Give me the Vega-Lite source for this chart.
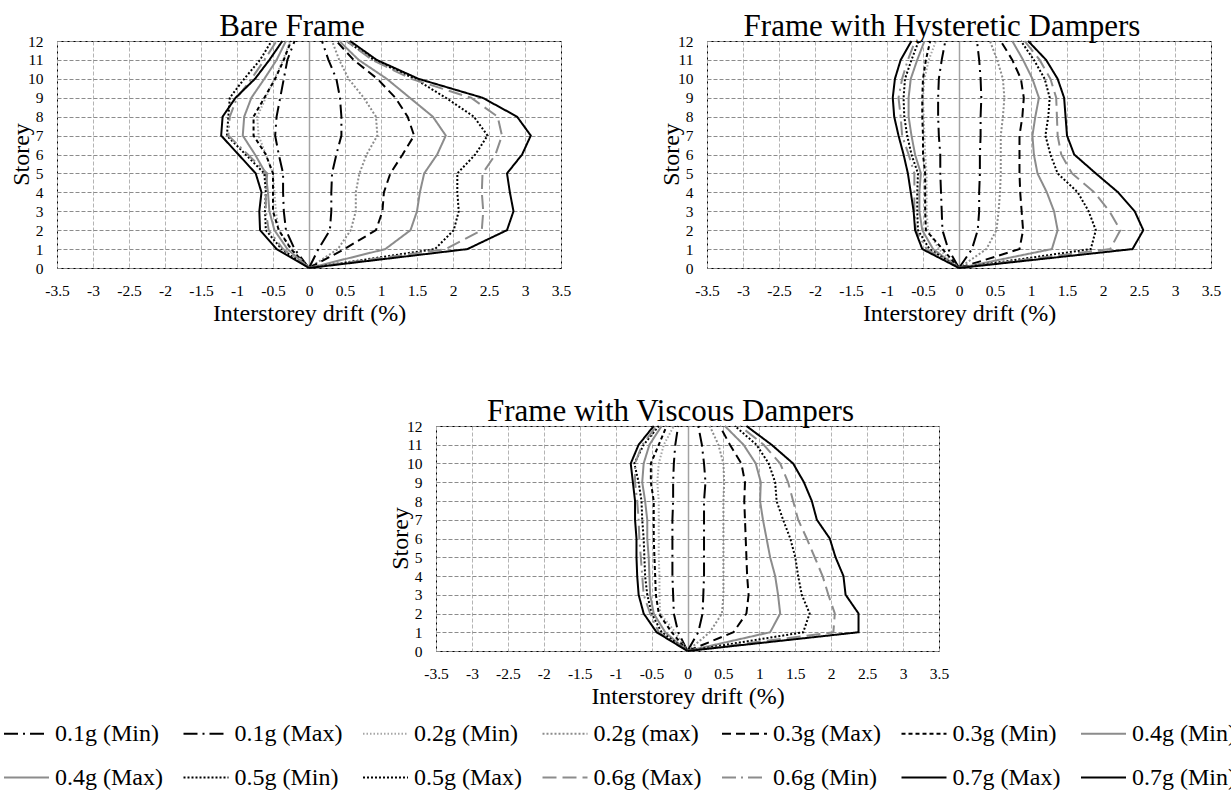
{
  "$schema": "https://vega.github.io/schema/vega-lite/v6.json",
  "autosize": {"type": "none"},
  "padding": {"left": 57, "top": 41, "right": 1174, "bottom": 752},
  "background": "#ffffff",
  "datasets": {
    "bare": [
      {"series":"0.1g (Min)","storey":0,"drift":0},{"series":"0.1g (Min)","storey":1,"drift":-0.2},{"series":"0.1g (Min)","storey":2,"drift":-0.32},{"series":"0.1g (Min)","storey":3,"drift":-0.35},{"series":"0.1g (Min)","storey":4,"drift":-0.36},{"series":"0.1g (Min)","storey":5,"drift":-0.36},{"series":"0.1g (Min)","storey":6,"drift":-0.42},{"series":"0.1g (Min)","storey":7,"drift":-0.47},{"series":"0.1g (Min)","storey":8,"drift":-0.45},{"series":"0.1g (Min)","storey":9,"drift":-0.4},{"series":"0.1g (Min)","storey":10,"drift":-0.35},{"series":"0.1g (Min)","storey":11,"drift":-0.3},{"series":"0.1g (Min)","storey":12,"drift":-0.2},
      {"series":"0.1g (Max)","storey":0,"drift":0},{"series":"0.1g (Max)","storey":1,"drift":0.13},{"series":"0.1g (Max)","storey":2,"drift":0.29},{"series":"0.1g (Max)","storey":3,"drift":0.31},{"series":"0.1g (Max)","storey":4,"drift":0.31},{"series":"0.1g (Max)","storey":5,"drift":0.32},{"series":"0.1g (Max)","storey":6,"drift":0.38},{"series":"0.1g (Max)","storey":7,"drift":0.45},{"series":"0.1g (Max)","storey":8,"drift":0.45},{"series":"0.1g (Max)","storey":9,"drift":0.43},{"series":"0.1g (Max)","storey":10,"drift":0.38},{"series":"0.1g (Max)","storey":11,"drift":0.27},{"series":"0.1g (Max)","storey":12,"drift":0.18},
      {"series":"0.2g (Min)","storey":0,"drift":0},{"series":"0.2g (Min)","storey":1,"drift":-0.24},{"series":"0.2g (Min)","storey":2,"drift":-0.42},{"series":"0.2g (Min)","storey":3,"drift":-0.46},{"series":"0.2g (Min)","storey":4,"drift":-0.48},{"series":"0.2g (Min)","storey":5,"drift":-0.5},{"series":"0.2g (Min)","storey":6,"drift":-0.6},{"series":"0.2g (Min)","storey":7,"drift":-0.7},{"series":"0.2g (Min)","storey":8,"drift":-0.72},{"series":"0.2g (Min)","storey":9,"drift":-0.6},{"series":"0.2g (Min)","storey":10,"drift":-0.48},{"series":"0.2g (Min)","storey":11,"drift":-0.36},{"series":"0.2g (Min)","storey":12,"drift":-0.26},
      {"series":"0.2g (max)","storey":0,"drift":0},{"series":"0.2g (max)","storey":1,"drift":0.4},{"series":"0.2g (max)","storey":2,"drift":0.58},{"series":"0.2g (max)","storey":3,"drift":0.65},{"series":"0.2g (max)","storey":4,"drift":0.65},{"series":"0.2g (max)","storey":5,"drift":0.7},{"series":"0.2g (max)","storey":6,"drift":0.8},{"series":"0.2g (max)","storey":7,"drift":0.95},{"series":"0.2g (max)","storey":8,"drift":0.93},{"series":"0.2g (max)","storey":9,"drift":0.76},{"series":"0.2g (max)","storey":10,"drift":0.55},{"series":"0.2g (max)","storey":11,"drift":0.42},{"series":"0.2g (max)","storey":12,"drift":0.32},
      {"series":"0.3g (Max)","storey":0,"drift":0},{"series":"0.3g (Max)","storey":1,"drift":0.49},{"series":"0.3g (Max)","storey":2,"drift":0.93},{"series":"0.3g (Max)","storey":3,"drift":1.02},{"series":"0.3g (Max)","storey":4,"drift":1.04},{"series":"0.3g (Max)","storey":5,"drift":1.13},{"series":"0.3g (Max)","storey":6,"drift":1.3},{"series":"0.3g (Max)","storey":7,"drift":1.46},{"series":"0.3g (Max)","storey":8,"drift":1.37},{"series":"0.3g (Max)","storey":9,"drift":1.2},{"series":"0.3g (Max)","storey":10,"drift":0.95},{"series":"0.3g (Max)","storey":11,"drift":0.62},{"series":"0.3g (Max)","storey":12,"drift":0.38},
      {"series":"0.3g (Min)","storey":0,"drift":0},{"series":"0.3g (Min)","storey":1,"drift":-0.25},{"series":"0.3g (Min)","storey":2,"drift":-0.42},{"series":"0.3g (Min)","storey":3,"drift":-0.5},{"series":"0.3g (Min)","storey":4,"drift":-0.5},{"series":"0.3g (Min)","storey":5,"drift":-0.5},{"series":"0.3g (Min)","storey":6,"drift":-0.6},{"series":"0.3g (Min)","storey":7,"drift":-0.77},{"series":"0.3g (Min)","storey":8,"drift":-0.77},{"series":"0.3g (Min)","storey":9,"drift":-0.62},{"series":"0.3g (Min)","storey":10,"drift":-0.47},{"series":"0.3g (Min)","storey":11,"drift":-0.35},{"series":"0.3g (Min)","storey":12,"drift":-0.25},
      {"series":"0.4g (Min)","storey":0,"drift":0},{"series":"0.4g (Min)","storey":1,"drift":-0.3},{"series":"0.4g (Min)","storey":2,"drift":-0.48},{"series":"0.4g (Min)","storey":3,"drift":-0.55},{"series":"0.4g (Min)","storey":4,"drift":-0.57},{"series":"0.4g (Min)","storey":5,"drift":-0.6},{"series":"0.4g (Min)","storey":6,"drift":-0.75},{"series":"0.4g (Min)","storey":7,"drift":-0.92},{"series":"0.4g (Min)","storey":8,"drift":-0.9},{"series":"0.4g (Min)","storey":9,"drift":-0.8},{"series":"0.4g (Min)","storey":10,"drift":-0.62},{"series":"0.4g (Min)","storey":11,"drift":-0.45},{"series":"0.4g (Min)","storey":12,"drift":-0.32},
      {"series":"0.4g (Max)","storey":0,"drift":0},{"series":"0.4g (Max)","storey":1,"drift":1.06},{"series":"0.4g (Max)","storey":2,"drift":1.41},{"series":"0.4g (Max)","storey":3,"drift":1.5},{"series":"0.4g (Max)","storey":4,"drift":1.54},{"series":"0.4g (Max)","storey":5,"drift":1.6},{"series":"0.4g (Max)","storey":6,"drift":1.78},{"series":"0.4g (Max)","storey":7,"drift":1.9},{"series":"0.4g (Max)","storey":8,"drift":1.72},{"series":"0.4g (Max)","storey":9,"drift":1.4},{"series":"0.4g (Max)","storey":10,"drift":1.08},{"series":"0.4g (Max)","storey":11,"drift":0.69},{"series":"0.4g (Max)","storey":12,"drift":0.42},
      {"series":"0.5g (Min)","storey":0,"drift":0},{"series":"0.5g (Min)","storey":1,"drift":-0.38},{"series":"0.5g (Min)","storey":2,"drift":-0.6},{"series":"0.5g (Min)","storey":3,"drift":-0.61},{"series":"0.5g (Min)","storey":4,"drift":-0.6},{"series":"0.5g (Min)","storey":5,"drift":-0.62},{"series":"0.5g (Min)","storey":6,"drift":-0.88},{"series":"0.5g (Min)","storey":7,"drift":-1.14},{"series":"0.5g (Min)","storey":8,"drift":-1.12},{"series":"0.5g (Min)","storey":9,"drift":-1.1},{"series":"0.5g (Min)","storey":10,"drift":-0.9},{"series":"0.5g (Min)","storey":11,"drift":-0.68},{"series":"0.5g (Min)","storey":12,"drift":-0.52},
      {"series":"0.5g (Max)","storey":0,"drift":0},{"series":"0.5g (Max)","storey":1,"drift":1.75},{"series":"0.5g (Max)","storey":2,"drift":2.01},{"series":"0.5g (Max)","storey":3,"drift":2.08},{"series":"0.5g (Max)","storey":4,"drift":2.06},{"series":"0.5g (Max)","storey":5,"drift":2.06},{"series":"0.5g (Max)","storey":6,"drift":2.31},{"series":"0.5g (Max)","storey":7,"drift":2.48},{"series":"0.5g (Max)","storey":8,"drift":2.29},{"series":"0.5g (Max)","storey":9,"drift":1.9},{"series":"0.5g (Max)","storey":10,"drift":1.47},{"series":"0.5g (Max)","storey":11,"drift":0.9},{"series":"0.5g (Max)","storey":12,"drift":0.52},
      {"series":"0.6g (Max)","storey":0,"drift":0},{"series":"0.6g (Max)","storey":1,"drift":1.9},{"series":"0.6g (Max)","storey":2,"drift":2.4},{"series":"0.6g (Max)","storey":3,"drift":2.42},{"series":"0.6g (Max)","storey":4,"drift":2.4},{"series":"0.6g (Max)","storey":5,"drift":2.41},{"series":"0.6g (Max)","storey":6,"drift":2.59},{"series":"0.6g (Max)","storey":7,"drift":2.68},{"series":"0.6g (Max)","storey":8,"drift":2.62},{"series":"0.6g (Max)","storey":9,"drift":2.25},{"series":"0.6g (Max)","storey":10,"drift":1.42},{"series":"0.6g (Max)","storey":11,"drift":0.88},{"series":"0.6g (Max)","storey":12,"drift":0.52},
      {"series":"0.6g (Min)","storey":0,"drift":0},{"series":"0.6g (Min)","storey":1,"drift":-0.36},{"series":"0.6g (Min)","storey":2,"drift":-0.56},{"series":"0.6g (Min)","storey":3,"drift":-0.6},{"series":"0.6g (Min)","storey":4,"drift":-0.6},{"series":"0.6g (Min)","storey":5,"drift":-0.58},{"series":"0.6g (Min)","storey":6,"drift":-0.85},{"series":"0.6g (Min)","storey":7,"drift":-1.12},{"series":"0.6g (Min)","storey":8,"drift":-1.1},{"series":"0.6g (Min)","storey":9,"drift":-1.0},{"series":"0.6g (Min)","storey":10,"drift":-0.8},{"series":"0.6g (Min)","storey":11,"drift":-0.62},{"series":"0.6g (Min)","storey":12,"drift":-0.45},
      {"series":"0.7g (Max)","storey":0,"drift":0},{"series":"0.7g (Max)","storey":1,"drift":2.2},{"series":"0.7g (Max)","storey":2,"drift":2.75},{"series":"0.7g (Max)","storey":3,"drift":2.84},{"series":"0.7g (Max)","storey":4,"drift":2.79},{"series":"0.7g (Max)","storey":5,"drift":2.75},{"series":"0.7g (Max)","storey":6,"drift":2.96},{"series":"0.7g (Max)","storey":7,"drift":3.08},{"series":"0.7g (Max)","storey":8,"drift":2.89},{"series":"0.7g (Max)","storey":9,"drift":2.41},{"series":"0.7g (Max)","storey":10,"drift":1.52},{"series":"0.7g (Max)","storey":11,"drift":0.94},{"series":"0.7g (Max)","storey":12,"drift":0.57},
      {"series":"0.7g (Min)","storey":0,"drift":0},{"series":"0.7g (Min)","storey":1,"drift":-0.45},{"series":"0.7g (Min)","storey":2,"drift":-0.68},{"series":"0.7g (Min)","storey":3,"drift":-0.69},{"series":"0.7g (Min)","storey":4,"drift":-0.66},{"series":"0.7g (Min)","storey":5,"drift":-0.74},{"series":"0.7g (Min)","storey":6,"drift":-0.98},{"series":"0.7g (Min)","storey":7,"drift":-1.22},{"series":"0.7g (Min)","storey":8,"drift":-1.2},{"series":"0.7g (Min)","storey":9,"drift":-1.02},{"series":"0.7g (Min)","storey":10,"drift":-0.75},{"series":"0.7g (Min)","storey":11,"drift":-0.55},{"series":"0.7g (Min)","storey":12,"drift":-0.37}
    ],
    "hysteretic": [
      {"series":"0.1g (Min)","storey":0,"drift":0},{"series":"0.1g (Min)","storey":1,"drift":-0.15},{"series":"0.1g (Min)","storey":2,"drift":-0.23},{"series":"0.1g (Min)","storey":3,"drift":-0.24},{"series":"0.1g (Min)","storey":4,"drift":-0.25},{"series":"0.1g (Min)","storey":5,"drift":-0.26},{"series":"0.1g (Min)","storey":6,"drift":-0.26},{"series":"0.1g (Min)","storey":7,"drift":-0.28},{"series":"0.1g (Min)","storey":8,"drift":-0.29},{"series":"0.1g (Min)","storey":9,"drift":-0.29},{"series":"0.1g (Min)","storey":10,"drift":-0.28},{"series":"0.1g (Min)","storey":11,"drift":-0.24},{"series":"0.1g (Min)","storey":12,"drift":-0.19},
      {"series":"0.1g (Max)","storey":0,"drift":0},{"series":"0.1g (Max)","storey":1,"drift":0.18},{"series":"0.1g (Max)","storey":2,"drift":0.26},{"series":"0.1g (Max)","storey":3,"drift":0.28},{"series":"0.1g (Max)","storey":4,"drift":0.28},{"series":"0.1g (Max)","storey":5,"drift":0.29},{"series":"0.1g (Max)","storey":6,"drift":0.29},{"series":"0.1g (Max)","storey":7,"drift":0.3},{"series":"0.1g (Max)","storey":8,"drift":0.3},{"series":"0.1g (Max)","storey":9,"drift":0.31},{"series":"0.1g (Max)","storey":10,"drift":0.3},{"series":"0.1g (Max)","storey":11,"drift":0.28},{"series":"0.1g (Max)","storey":12,"drift":0.25},
      {"series":"0.2g (Min)","storey":0,"drift":0},{"series":"0.2g (Min)","storey":1,"drift":-0.28},{"series":"0.2g (Min)","storey":2,"drift":-0.43},{"series":"0.2g (Min)","storey":3,"drift":-0.45},{"series":"0.2g (Min)","storey":4,"drift":-0.45},{"series":"0.2g (Min)","storey":5,"drift":-0.45},{"series":"0.2g (Min)","storey":6,"drift":-0.47},{"series":"0.2g (Min)","storey":7,"drift":-0.48},{"series":"0.2g (Min)","storey":8,"drift":-0.49},{"series":"0.2g (Min)","storey":9,"drift":-0.5},{"series":"0.2g (Min)","storey":10,"drift":-0.48},{"series":"0.2g (Min)","storey":11,"drift":-0.42},{"series":"0.2g (Min)","storey":12,"drift":-0.32},
      {"series":"0.2g (max)","storey":0,"drift":0},{"series":"0.2g (max)","storey":1,"drift":0.38},{"series":"0.2g (max)","storey":2,"drift":0.52},{"series":"0.2g (max)","storey":3,"drift":0.55},{"series":"0.2g (max)","storey":4,"drift":0.57},{"series":"0.2g (max)","storey":5,"drift":0.58},{"series":"0.2g (max)","storey":6,"drift":0.58},{"series":"0.2g (max)","storey":7,"drift":0.58},{"series":"0.2g (max)","storey":8,"drift":0.61},{"series":"0.2g (max)","storey":9,"drift":0.63},{"series":"0.2g (max)","storey":10,"drift":0.61},{"series":"0.2g (max)","storey":11,"drift":0.53},{"series":"0.2g (max)","storey":12,"drift":0.43},
      {"series":"0.3g (Max)","storey":0,"drift":0},{"series":"0.3g (Max)","storey":1,"drift":0.84},{"series":"0.3g (Max)","storey":2,"drift":0.89},{"series":"0.3g (Max)","storey":3,"drift":0.87},{"series":"0.3g (Max)","storey":4,"drift":0.85},{"series":"0.3g (Max)","storey":5,"drift":0.84},{"series":"0.3g (Max)","storey":6,"drift":0.84},{"series":"0.3g (Max)","storey":7,"drift":0.84},{"series":"0.3g (Max)","storey":8,"drift":0.88},{"series":"0.3g (Max)","storey":9,"drift":0.9},{"series":"0.3g (Max)","storey":10,"drift":0.86},{"series":"0.3g (Max)","storey":11,"drift":0.74},{"series":"0.3g (Max)","storey":12,"drift":0.58},
      {"series":"0.3g (Min)","storey":0,"drift":0},{"series":"0.3g (Min)","storey":1,"drift":-0.23},{"series":"0.3g (Min)","storey":2,"drift":-0.46},{"series":"0.3g (Min)","storey":3,"drift":-0.47},{"series":"0.3g (Min)","storey":4,"drift":-0.47},{"series":"0.3g (Min)","storey":5,"drift":-0.47},{"series":"0.3g (Min)","storey":6,"drift":-0.5},{"series":"0.3g (Min)","storey":7,"drift":-0.5},{"series":"0.3g (Min)","storey":8,"drift":-0.51},{"series":"0.3g (Min)","storey":9,"drift":-0.51},{"series":"0.3g (Min)","storey":10,"drift":-0.5},{"series":"0.3g (Min)","storey":11,"drift":-0.46},{"series":"0.3g (Min)","storey":12,"drift":-0.4},
      {"series":"0.4g (Min)","storey":0,"drift":0},{"series":"0.4g (Min)","storey":1,"drift":-0.36},{"series":"0.4g (Min)","storey":2,"drift":-0.51},{"series":"0.4g (Min)","storey":3,"drift":-0.55},{"series":"0.4g (Min)","storey":4,"drift":-0.55},{"series":"0.4g (Min)","storey":5,"drift":-0.53},{"series":"0.4g (Min)","storey":6,"drift":-0.61},{"series":"0.4g (Min)","storey":7,"drift":-0.66},{"series":"0.4g (Min)","storey":8,"drift":-0.7},{"series":"0.4g (Min)","storey":9,"drift":-0.7},{"series":"0.4g (Min)","storey":10,"drift":-0.67},{"series":"0.4g (Min)","storey":11,"drift":-0.58},{"series":"0.4g (Min)","storey":12,"drift":-0.48},
      {"series":"0.4g (Max)","storey":0,"drift":0},{"series":"0.4g (Max)","storey":1,"drift":1.29},{"series":"0.4g (Max)","storey":2,"drift":1.37},{"series":"0.4g (Max)","storey":3,"drift":1.32},{"series":"0.4g (Max)","storey":4,"drift":1.22},{"series":"0.4g (Max)","storey":5,"drift":1.09},{"series":"0.4g (Max)","storey":6,"drift":1.04},{"series":"0.4g (Max)","storey":7,"drift":1.02},{"series":"0.4g (Max)","storey":8,"drift":1.06},{"series":"0.4g (Max)","storey":9,"drift":1.11},{"series":"0.4g (Max)","storey":10,"drift":1.02},{"series":"0.4g (Max)","storey":11,"drift":0.89},{"series":"0.4g (Max)","storey":12,"drift":0.74},
      {"series":"0.5g (Min)","storey":0,"drift":0},{"series":"0.5g (Min)","storey":1,"drift":-0.41},{"series":"0.5g (Min)","storey":2,"drift":-0.57},{"series":"0.5g (Min)","storey":3,"drift":-0.58},{"series":"0.5g (Min)","storey":4,"drift":-0.58},{"series":"0.5g (Min)","storey":5,"drift":-0.57},{"series":"0.5g (Min)","storey":6,"drift":-0.66},{"series":"0.5g (Min)","storey":7,"drift":-0.72},{"series":"0.5g (Min)","storey":8,"drift":-0.76},{"series":"0.5g (Min)","storey":9,"drift":-0.77},{"series":"0.5g (Min)","storey":10,"drift":-0.75},{"series":"0.5g (Min)","storey":11,"drift":-0.66},{"series":"0.5g (Min)","storey":12,"drift":-0.56},
      {"series":"0.5g (Max)","storey":0,"drift":0},{"series":"0.5g (Max)","storey":1,"drift":1.83},{"series":"0.5g (Max)","storey":2,"drift":1.9},{"series":"0.5g (Max)","storey":3,"drift":1.8},{"series":"0.5g (Max)","storey":4,"drift":1.65},{"series":"0.5g (Max)","storey":5,"drift":1.37},{"series":"0.5g (Max)","storey":6,"drift":1.27},{"series":"0.5g (Max)","storey":7,"drift":1.2},{"series":"0.5g (Max)","storey":8,"drift":1.24},{"series":"0.5g (Max)","storey":9,"drift":1.26},{"series":"0.5g (Max)","storey":10,"drift":1.19},{"series":"0.5g (Max)","storey":11,"drift":1.04},{"series":"0.5g (Max)","storey":12,"drift":0.86},
      {"series":"0.6g (Max)","storey":0,"drift":0},{"series":"0.6g (Max)","storey":1,"drift":2.1},{"series":"0.6g (Max)","storey":2,"drift":2.24},{"series":"0.6g (Max)","storey":3,"drift":2.09},{"series":"0.6g (Max)","storey":4,"drift":1.88},{"series":"0.6g (Max)","storey":5,"drift":1.57},{"series":"0.6g (Max)","storey":6,"drift":1.42},{"series":"0.6g (Max)","storey":7,"drift":1.37},{"series":"0.6g (Max)","storey":8,"drift":1.36},{"series":"0.6g (Max)","storey":9,"drift":1.35},{"series":"0.6g (Max)","storey":10,"drift":1.27},{"series":"0.6g (Max)","storey":11,"drift":1.12},{"series":"0.6g (Max)","storey":12,"drift":0.91},
      {"series":"0.6g (Min)","storey":0,"drift":0},{"series":"0.6g (Min)","storey":1,"drift":-0.45},{"series":"0.6g (Min)","storey":2,"drift":-0.6},{"series":"0.6g (Min)","storey":3,"drift":-0.62},{"series":"0.6g (Min)","storey":4,"drift":-0.62},{"series":"0.6g (Min)","storey":5,"drift":-0.62},{"series":"0.6g (Min)","storey":6,"drift":-0.7},{"series":"0.6g (Min)","storey":7,"drift":-0.79},{"series":"0.6g (Min)","storey":8,"drift":-0.81},{"series":"0.6g (Min)","storey":9,"drift":-0.84},{"series":"0.6g (Min)","storey":10,"drift":-0.79},{"series":"0.6g (Min)","storey":11,"drift":-0.71},{"series":"0.6g (Min)","storey":12,"drift":-0.61},
      {"series":"0.7g (Max)","storey":0,"drift":0},{"series":"0.7g (Max)","storey":1,"drift":2.41},{"series":"0.7g (Max)","storey":2,"drift":2.56},{"series":"0.7g (Max)","storey":3,"drift":2.44},{"series":"0.7g (Max)","storey":4,"drift":2.21},{"series":"0.7g (Max)","storey":5,"drift":1.9},{"series":"0.7g (Max)","storey":6,"drift":1.6},{"series":"0.7g (Max)","storey":7,"drift":1.5},{"series":"0.7g (Max)","storey":8,"drift":1.48},{"series":"0.7g (Max)","storey":9,"drift":1.46},{"series":"0.7g (Max)","storey":10,"drift":1.37},{"series":"0.7g (Max)","storey":11,"drift":1.21},{"series":"0.7g (Max)","storey":12,"drift":0.96},
      {"series":"0.7g (Min)","storey":0,"drift":0},{"series":"0.7g (Min)","storey":1,"drift":-0.51},{"series":"0.7g (Min)","storey":2,"drift":-0.61},{"series":"0.7g (Min)","storey":3,"drift":-0.63},{"series":"0.7g (Min)","storey":4,"drift":-0.67},{"series":"0.7g (Min)","storey":5,"drift":-0.71},{"series":"0.7g (Min)","storey":6,"drift":-0.77},{"series":"0.7g (Min)","storey":7,"drift":-0.84},{"series":"0.7g (Min)","storey":8,"drift":-0.9},{"series":"0.7g (Min)","storey":9,"drift":-0.92},{"series":"0.7g (Min)","storey":10,"drift":-0.89},{"series":"0.7g (Min)","storey":11,"drift":-0.81},{"series":"0.7g (Min)","storey":12,"drift":-0.66}
    ],
    "viscous": [
      {"series":"0.1g (Min)","storey":0,"drift":0},{"series":"0.1g (Min)","storey":1,"drift":-0.13},{"series":"0.1g (Min)","storey":2,"drift":-0.19},{"series":"0.1g (Min)","storey":3,"drift":-0.2},{"series":"0.1g (Min)","storey":4,"drift":-0.21},{"series":"0.1g (Min)","storey":5,"drift":-0.21},{"series":"0.1g (Min)","storey":6,"drift":-0.21},{"series":"0.1g (Min)","storey":7,"drift":-0.21},{"series":"0.1g (Min)","storey":8,"drift":-0.2},{"series":"0.1g (Min)","storey":9,"drift":-0.2},{"series":"0.1g (Min)","storey":10,"drift":-0.19},{"series":"0.1g (Min)","storey":11,"drift":-0.17},{"series":"0.1g (Min)","storey":12,"drift":-0.13},
      {"series":"0.1g (Max)","storey":0,"drift":0},{"series":"0.1g (Max)","storey":1,"drift":0.15},{"series":"0.1g (Max)","storey":2,"drift":0.21},{"series":"0.1g (Max)","storey":3,"drift":0.22},{"series":"0.1g (Max)","storey":4,"drift":0.23},{"series":"0.1g (Max)","storey":5,"drift":0.23},{"series":"0.1g (Max)","storey":6,"drift":0.23},{"series":"0.1g (Max)","storey":7,"drift":0.23},{"series":"0.1g (Max)","storey":8,"drift":0.23},{"series":"0.1g (Max)","storey":9,"drift":0.25},{"series":"0.1g (Max)","storey":10,"drift":0.23},{"series":"0.1g (Max)","storey":11,"drift":0.2},{"series":"0.1g (Max)","storey":12,"drift":0.15},
      {"series":"0.2g (Min)","storey":0,"drift":0},{"series":"0.2g (Min)","storey":1,"drift":-0.17},{"series":"0.2g (Min)","storey":2,"drift":-0.38},{"series":"0.2g (Min)","storey":3,"drift":-0.39},{"series":"0.2g (Min)","storey":4,"drift":-0.39},{"series":"0.2g (Min)","storey":5,"drift":-0.4},{"series":"0.2g (Min)","storey":6,"drift":-0.4},{"series":"0.2g (Min)","storey":7,"drift":-0.4},{"series":"0.2g (Min)","storey":8,"drift":-0.4},{"series":"0.2g (Min)","storey":9,"drift":-0.42},{"series":"0.2g (Min)","storey":10,"drift":-0.4},{"series":"0.2g (Min)","storey":11,"drift":-0.33},{"series":"0.2g (Min)","storey":12,"drift":-0.19},
      {"series":"0.2g (max)","storey":0,"drift":0},{"series":"0.2g (max)","storey":1,"drift":0.31},{"series":"0.2g (max)","storey":2,"drift":0.48},{"series":"0.2g (max)","storey":3,"drift":0.5},{"series":"0.2g (max)","storey":4,"drift":0.5},{"series":"0.2g (max)","storey":5,"drift":0.5},{"series":"0.2g (max)","storey":6,"drift":0.5},{"series":"0.2g (max)","storey":7,"drift":0.5},{"series":"0.2g (max)","storey":8,"drift":0.5},{"series":"0.2g (max)","storey":9,"drift":0.51},{"series":"0.2g (max)","storey":10,"drift":0.5},{"series":"0.2g (max)","storey":11,"drift":0.43},{"series":"0.2g (max)","storey":12,"drift":0.31},
      {"series":"0.3g (Max)","storey":0,"drift":0},{"series":"0.3g (Max)","storey":1,"drift":0.64},{"series":"0.3g (Max)","storey":2,"drift":0.82},{"series":"0.3g (Max)","storey":3,"drift":0.85},{"series":"0.3g (Max)","storey":4,"drift":0.83},{"series":"0.3g (Max)","storey":5,"drift":0.82},{"series":"0.3g (Max)","storey":6,"drift":0.81},{"series":"0.3g (Max)","storey":7,"drift":0.8},{"series":"0.3g (Max)","storey":8,"drift":0.79},{"series":"0.3g (Max)","storey":9,"drift":0.8},{"series":"0.3g (Max)","storey":10,"drift":0.75},{"series":"0.3g (Max)","storey":11,"drift":0.59},{"series":"0.3g (Max)","storey":12,"drift":0.45},
      {"series":"0.3g (Min)","storey":0,"drift":0},{"series":"0.3g (Min)","storey":1,"drift":-0.22},{"series":"0.3g (Min)","storey":2,"drift":-0.4},{"series":"0.3g (Min)","storey":3,"drift":-0.44},{"series":"0.3g (Min)","storey":4,"drift":-0.45},{"series":"0.3g (Min)","storey":5,"drift":-0.46},{"series":"0.3g (Min)","storey":6,"drift":-0.47},{"series":"0.3g (Min)","storey":7,"drift":-0.47},{"series":"0.3g (Min)","storey":8,"drift":-0.47},{"series":"0.3g (Min)","storey":9,"drift":-0.51},{"series":"0.3g (Min)","storey":10,"drift":-0.51},{"series":"0.3g (Min)","storey":11,"drift":-0.4},{"series":"0.3g (Min)","storey":12,"drift":-0.29},
      {"series":"0.4g (Min)","storey":0,"drift":0},{"series":"0.4g (Min)","storey":1,"drift":-0.31},{"series":"0.4g (Min)","storey":2,"drift":-0.47},{"series":"0.4g (Min)","storey":3,"drift":-0.52},{"series":"0.4g (Min)","storey":4,"drift":-0.53},{"series":"0.4g (Min)","storey":5,"drift":-0.54},{"series":"0.4g (Min)","storey":6,"drift":-0.56},{"series":"0.4g (Min)","storey":7,"drift":-0.56},{"series":"0.4g (Min)","storey":8,"drift":-0.59},{"series":"0.4g (Min)","storey":9,"drift":-0.63},{"series":"0.4g (Min)","storey":10,"drift":-0.61},{"series":"0.4g (Min)","storey":11,"drift":-0.53},{"series":"0.4g (Min)","storey":12,"drift":-0.36},
      {"series":"0.4g (Max)","storey":0,"drift":0},{"series":"0.4g (Max)","storey":1,"drift":1.15},{"series":"0.4g (Max)","storey":2,"drift":1.29},{"series":"0.4g (Max)","storey":3,"drift":1.26},{"series":"0.4g (Max)","storey":4,"drift":1.22},{"series":"0.4g (Max)","storey":5,"drift":1.15},{"series":"0.4g (Max)","storey":6,"drift":1.1},{"series":"0.4g (Max)","storey":7,"drift":1.05},{"series":"0.4g (Max)","storey":8,"drift":1.01},{"series":"0.4g (Max)","storey":9,"drift":1.02},{"series":"0.4g (Max)","storey":10,"drift":0.95},{"series":"0.4g (Max)","storey":11,"drift":0.78},{"series":"0.4g (Max)","storey":12,"drift":0.52},
      {"series":"0.5g (Min)","storey":0,"drift":0},{"series":"0.5g (Min)","storey":1,"drift":-0.36},{"series":"0.5g (Min)","storey":2,"drift":-0.5},{"series":"0.5g (Min)","storey":3,"drift":-0.56},{"series":"0.5g (Min)","storey":4,"drift":-0.59},{"series":"0.5g (Min)","storey":5,"drift":-0.6},{"series":"0.5g (Min)","storey":6,"drift":-0.61},{"series":"0.5g (Min)","storey":7,"drift":-0.63},{"series":"0.5g (Min)","storey":8,"drift":-0.64},{"series":"0.5g (Min)","storey":9,"drift":-0.68},{"series":"0.5g (Min)","storey":10,"drift":-0.74},{"series":"0.5g (Min)","storey":11,"drift":-0.61},{"series":"0.5g (Min)","storey":12,"drift":-0.4},
      {"series":"0.5g (Max)","storey":0,"drift":0},{"series":"0.5g (Max)","storey":1,"drift":1.61},{"series":"0.5g (Max)","storey":2,"drift":1.7},{"series":"0.5g (Max)","storey":3,"drift":1.59},{"series":"0.5g (Max)","storey":4,"drift":1.54},{"series":"0.5g (Max)","storey":5,"drift":1.5},{"series":"0.5g (Max)","storey":6,"drift":1.43},{"series":"0.5g (Max)","storey":7,"drift":1.33},{"series":"0.5g (Max)","storey":8,"drift":1.24},{"series":"0.5g (Max)","storey":9,"drift":1.22},{"series":"0.5g (Max)","storey":10,"drift":1.13},{"series":"0.5g (Max)","storey":11,"drift":0.96},{"series":"0.5g (Max)","storey":12,"drift":0.66},
      {"series":"0.6g (Max)","storey":0,"drift":0},{"series":"0.6g (Max)","storey":1,"drift":2.03},{"series":"0.6g (Max)","storey":2,"drift":2.05},{"series":"0.6g (Max)","storey":3,"drift":1.96},{"series":"0.6g (Max)","storey":4,"drift":1.88},{"series":"0.6g (Max)","storey":5,"drift":1.77},{"series":"0.6g (Max)","storey":6,"drift":1.66},{"series":"0.6g (Max)","storey":7,"drift":1.54},{"series":"0.6g (Max)","storey":8,"drift":1.47},{"series":"0.6g (Max)","storey":9,"drift":1.4},{"series":"0.6g (Max)","storey":10,"drift":1.29},{"series":"0.6g (Max)","storey":11,"drift":1.06},{"series":"0.6g (Max)","storey":12,"drift":0.73},
      {"series":"0.6g (Min)","storey":0,"drift":0},{"series":"0.6g (Min)","storey":1,"drift":-0.4},{"series":"0.6g (Min)","storey":2,"drift":-0.52},{"series":"0.6g (Min)","storey":3,"drift":-0.61},{"series":"0.6g (Min)","storey":4,"drift":-0.63},{"series":"0.6g (Min)","storey":5,"drift":-0.65},{"series":"0.6g (Min)","storey":6,"drift":-0.67},{"series":"0.6g (Min)","storey":7,"drift":-0.68},{"series":"0.6g (Min)","storey":8,"drift":-0.7},{"series":"0.6g (Min)","storey":9,"drift":-0.73},{"series":"0.6g (Min)","storey":10,"drift":-0.73},{"series":"0.6g (Min)","storey":11,"drift":-0.63},{"series":"0.6g (Min)","storey":12,"drift":-0.43},
      {"series":"0.7g (Max)","storey":0,"drift":0},{"series":"0.7g (Max)","storey":1,"drift":2.38},{"series":"0.7g (Max)","storey":2,"drift":2.38},{"series":"0.7g (Max)","storey":3,"drift":2.2},{"series":"0.7g (Max)","storey":4,"drift":2.17},{"series":"0.7g (Max)","storey":5,"drift":2.06},{"series":"0.7g (Max)","storey":6,"drift":1.98},{"series":"0.7g (Max)","storey":7,"drift":1.8},{"series":"0.7g (Max)","storey":8,"drift":1.73},{"series":"0.7g (Max)","storey":9,"drift":1.62},{"series":"0.7g (Max)","storey":10,"drift":1.47},{"series":"0.7g (Max)","storey":11,"drift":1.17},{"series":"0.7g (Max)","storey":12,"drift":0.82},
      {"series":"0.7g (Min)","storey":0,"drift":0},{"series":"0.7g (Min)","storey":1,"drift":-0.43},{"series":"0.7g (Min)","storey":2,"drift":-0.61},{"series":"0.7g (Min)","storey":3,"drift":-0.68},{"series":"0.7g (Min)","storey":4,"drift":-0.7},{"series":"0.7g (Min)","storey":5,"drift":-0.71},{"series":"0.7g (Min)","storey":6,"drift":-0.71},{"series":"0.7g (Min)","storey":7,"drift":-0.73},{"series":"0.7g (Min)","storey":8,"drift":-0.73},{"series":"0.7g (Min)","storey":9,"drift":-0.76},{"series":"0.7g (Min)","storey":10,"drift":-0.79},{"series":"0.7g (Min)","storey":11,"drift":-0.68},{"series":"0.7g (Min)","storey":12,"drift":-0.47}
    ]
  },
  "bounds": "flush",
  "spacing": 385,
  "vconcat": [
    {
      "bounds": "flush",
      "spacing": 146,
      "hconcat": [
        {
          "width": 504, "height": 227,
          "title": {"text": "Bare Frame"},
          "data": {"name": "bare"},
          "mark": {"type": "line"},
          "encoding": {
            "x": {"field": "drift", "type": "quantitative", "scale": {"domain": [-3.5, 3.5], "nice": false, "zero": false}, "axis": {"title": "Interstorey drift (%)", "values": [-3.5,-3,-2.5,-2,-1.5,-1,-0.5,0,0.5,1,1.5,2,2.5,3,3.5], "labelExpr": "'' + datum.value", "labelOverlap": false, "labelSeparation": -20, "labelFlush": false, "labelFont": "Liberation Serif", "labelFontSize": 15.5, "labelColor": "#000000", "labelPadding": 27, "labelBaseline": "alphabetic", "ticks": false, "tickSize": 0, "domain": false, "grid": true, "gridColor": {"condition": {"test": "datum.value === 0", "value": "#a3a3a3"}, "value": "#b4b4b4"}, "gridDash": {"condition": {"test": "datum.value === 0", "value": [1, 0]}, "value": [4, 2]}, "gridWidth": {"condition": {"test": "datum.value === 0", "value": 1.5}, "value": 1}, "titleFont": "Liberation Serif", "titleFontSize": 24, "titleFontWeight": "normal", "titleColor": "#000000", "titleY": 52, "titleBaseline": "alphabetic"}},
            "y": {"field": "storey", "type": "quantitative", "scale": {"domain": [0, 12], "nice": false}, "axis": {"title": "Storey", "values": [0,1,2,3,4,5,6,7,8,9,10,11,12], "labelOverlap": false, "labelFont": "Liberation Serif", "labelFontSize": 15.5, "labelColor": "#000000", "labelPadding": 14, "ticks": false, "tickSize": 0, "domain": false, "grid": true, "gridColor": "#8c8c8c", "gridDash": [4, 2], "gridWidth": 1, "titleFont": "Liberation Serif", "titleFontSize": 24, "titleFontWeight": "normal", "titleColor": "#000000", "titleAngle": -90, "titleX": -29, "titleY": 113, "titleBaseline": "alphabetic", "titleAlign": "center"}},
            "order": {"field": "storey", "type": "quantitative"},
            "color": {"field": "series", "type": "nominal", "scale": {"domain": ["0.1g (Min)","0.1g (Max)","0.2g (Min)","0.2g (max)","0.3g (Max)","0.3g (Min)","0.4g (Min)","0.4g (Max)","0.5g (Min)","0.5g (Max)","0.6g (Max)","0.6g (Min)","0.7g (Max)","0.7g (Min)"], "range": ["#000000","#000000","#a6a6a6","#8c8c8c","#000000","#000000","#8c8c8c","#8c8c8c","#000000","#000000","#8c8c8c","#8c8c8c","#000000","#000000"]}, "legend": {"title": null, "orient": "none", "legendX": -54, "legendY": 669, "columns": 7, "direction": "horizontal", "symbolStrokeWidth": 3.5, "labelFont": "Liberation Serif", "labelFontSize": 24}},
            "strokeDash": {"field": "series", "type": "nominal", "scale": {"domain": ["0.1g (Min)","0.1g (Max)","0.2g (Min)","0.2g (max)","0.3g (Max)","0.3g (Min)","0.4g (Min)","0.4g (Max)","0.5g (Min)","0.5g (Max)","0.6g (Max)","0.6g (Min)","0.7g (Max)","0.7g (Min)"], "range": [[14,5,2,5],[14,5,2,5],[1.5,2],[2,2],[9,5],[4,3],[1,0],[1,0],[2,2],[2,2],[14,6],[14,5,2,5],[1,0],[1,0]]}, "legend": {"title": null, "orient": "none", "legendX": -54, "legendY": 669, "columns": 7, "direction": "horizontal", "symbolStrokeWidth": 3.5, "labelFont": "Liberation Serif", "labelFontSize": 24}},
            "strokeWidth": {"field": "series", "type": "ordinal", "scale": {"domain": ["0.1g (Min)","0.1g (Max)","0.2g (Min)","0.2g (max)","0.3g (Max)","0.3g (Min)","0.4g (Min)","0.4g (Max)","0.5g (Min)","0.5g (Max)","0.6g (Max)","0.6g (Min)","0.7g (Max)","0.7g (Min)"], "range": [2,2,1.2,1.3,2,1.6,2,2,1.6,1.6,2,2,2,2]}, "legend": null}
          }
        },
        {
          "width": 504, "height": 227,
          "title": {"text": "Frame with Hysteretic Dampers"},
          "data": {"name": "hysteretic"},
          "mark": {"type": "line"},
          "encoding": {
            "x": {"field": "drift", "type": "quantitative", "scale": {"domain": [-3.5, 3.5], "nice": false, "zero": false}, "axis": {"title": "Interstorey drift (%)", "values": [-3.5,-3,-2.5,-2,-1.5,-1,-0.5,0,0.5,1,1.5,2,2.5,3,3.5], "labelExpr": "'' + datum.value", "labelOverlap": false, "labelSeparation": -20, "labelFlush": false, "labelFont": "Liberation Serif", "labelFontSize": 15.5, "labelColor": "#000000", "labelPadding": 27, "labelBaseline": "alphabetic", "ticks": false, "tickSize": 0, "domain": false, "grid": true, "gridColor": {"condition": {"test": "datum.value === 0", "value": "#a3a3a3"}, "value": "#b4b4b4"}, "gridDash": {"condition": {"test": "datum.value === 0", "value": [1, 0]}, "value": [4, 2]}, "gridWidth": {"condition": {"test": "datum.value === 0", "value": 1.5}, "value": 1}, "titleFont": "Liberation Serif", "titleFontSize": 24, "titleFontWeight": "normal", "titleColor": "#000000", "titleY": 52, "titleBaseline": "alphabetic"}},
            "y": {"field": "storey", "type": "quantitative", "scale": {"domain": [0, 12], "nice": false}, "axis": {"title": "Storey", "values": [0,1,2,3,4,5,6,7,8,9,10,11,12], "labelOverlap": false, "labelFont": "Liberation Serif", "labelFontSize": 15.5, "labelColor": "#000000", "labelPadding": 14, "ticks": false, "tickSize": 0, "domain": false, "grid": true, "gridColor": "#8c8c8c", "gridDash": [4, 2], "gridWidth": 1, "titleFont": "Liberation Serif", "titleFontSize": 24, "titleFontWeight": "normal", "titleColor": "#000000", "titleAngle": -90, "titleX": -29, "titleY": 113, "titleBaseline": "alphabetic", "titleAlign": "center"}},
            "order": {"field": "storey", "type": "quantitative"},
            "color": {"field": "series", "type": "nominal", "scale": {"domain": ["0.1g (Min)","0.1g (Max)","0.2g (Min)","0.2g (max)","0.3g (Max)","0.3g (Min)","0.4g (Min)","0.4g (Max)","0.5g (Min)","0.5g (Max)","0.6g (Max)","0.6g (Min)","0.7g (Max)","0.7g (Min)"], "range": ["#000000","#000000","#a6a6a6","#8c8c8c","#000000","#000000","#8c8c8c","#8c8c8c","#000000","#000000","#8c8c8c","#8c8c8c","#000000","#000000"]}, "legend": {"title": null, "orient": "none", "legendX": -54, "legendY": 669, "columns": 7, "direction": "horizontal", "symbolStrokeWidth": 3.5, "labelFont": "Liberation Serif", "labelFontSize": 24}},
            "strokeDash": {"field": "series", "type": "nominal", "scale": {"domain": ["0.1g (Min)","0.1g (Max)","0.2g (Min)","0.2g (max)","0.3g (Max)","0.3g (Min)","0.4g (Min)","0.4g (Max)","0.5g (Min)","0.5g (Max)","0.6g (Max)","0.6g (Min)","0.7g (Max)","0.7g (Min)"], "range": [[14,5,2,5],[14,5,2,5],[1.5,2],[2,2],[9,5],[4,3],[1,0],[1,0],[2,2],[2,2],[14,6],[14,5,2,5],[1,0],[1,0]]}, "legend": {"title": null, "orient": "none", "legendX": -54, "legendY": 669, "columns": 7, "direction": "horizontal", "symbolStrokeWidth": 3.5, "labelFont": "Liberation Serif", "labelFontSize": 24}},
            "strokeWidth": {"field": "series", "type": "ordinal", "scale": {"domain": ["0.1g (Min)","0.1g (Max)","0.2g (Min)","0.2g (max)","0.3g (Max)","0.3g (Min)","0.4g (Min)","0.4g (Max)","0.5g (Min)","0.5g (Max)","0.6g (Max)","0.6g (Min)","0.7g (Max)","0.7g (Min)"], "range": [2,2,1.2,1.3,2,1.6,2,2,1.6,1.6,2,2,2,2]}, "legend": null}
          }
        }
      ]
    },
    {
      "bounds": "flush",
      "spacing": 378,
      "hconcat": [
        {"width": 1, "height": 1, "view": {"stroke": null}, "data": {"values": [{}]}, "mark": {"type": "point", "opacity": 0}, "encoding": {}},
        {
          "width": 503, "height": 225,
          "title": {"text": "Frame with Viscous Dampers"},
          "data": {"name": "viscous"},
          "mark": {"type": "line"},
          "encoding": {
            "x": {"field": "drift", "type": "quantitative", "scale": {"domain": [-3.5, 3.5], "nice": false, "zero": false}, "axis": {"title": "Interstorey drift (%)", "values": [-3.5,-3,-2.5,-2,-1.5,-1,-0.5,0,0.5,1,1.5,2,2.5,3,3.5], "labelExpr": "'' + datum.value", "labelOverlap": false, "labelSeparation": -20, "labelFlush": false, "labelFont": "Liberation Serif", "labelFontSize": 15.5, "labelColor": "#000000", "labelPadding": 27, "labelBaseline": "alphabetic", "ticks": false, "tickSize": 0, "domain": false, "grid": true, "gridColor": {"condition": {"test": "datum.value === 0", "value": "#a3a3a3"}, "value": "#b4b4b4"}, "gridDash": {"condition": {"test": "datum.value === 0", "value": [1, 0]}, "value": [4, 2]}, "gridWidth": {"condition": {"test": "datum.value === 0", "value": 1.5}, "value": 1}, "titleFont": "Liberation Serif", "titleFontSize": 24, "titleFontWeight": "normal", "titleColor": "#000000", "titleY": 52, "titleBaseline": "alphabetic"}},
            "y": {"field": "storey", "type": "quantitative", "scale": {"domain": [0, 12], "nice": false}, "axis": {"title": "Storey", "values": [0,1,2,3,4,5,6,7,8,9,10,11,12], "labelOverlap": false, "labelFont": "Liberation Serif", "labelFontSize": 15.5, "labelColor": "#000000", "labelPadding": 14, "ticks": false, "tickSize": 0, "domain": false, "grid": true, "gridColor": "#8c8c8c", "gridDash": [4, 2], "gridWidth": 1, "titleFont": "Liberation Serif", "titleFontSize": 24, "titleFontWeight": "normal", "titleColor": "#000000", "titleAngle": -90, "titleX": -29, "titleY": 112, "titleBaseline": "alphabetic", "titleAlign": "center"}},
            "order": {"field": "storey", "type": "quantitative"},
            "color": {"field": "series", "type": "nominal", "scale": {"domain": ["0.1g (Min)","0.1g (Max)","0.2g (Min)","0.2g (max)","0.3g (Max)","0.3g (Min)","0.4g (Min)","0.4g (Max)","0.5g (Min)","0.5g (Max)","0.6g (Max)","0.6g (Min)","0.7g (Max)","0.7g (Min)"], "range": ["#000000","#000000","#a6a6a6","#8c8c8c","#000000","#000000","#8c8c8c","#8c8c8c","#000000","#000000","#8c8c8c","#8c8c8c","#000000","#000000"]}, "legend": {"title": null, "orient": "none", "legendX": -54, "legendY": 669, "columns": 7, "direction": "horizontal", "symbolStrokeWidth": 3.5, "labelFont": "Liberation Serif", "labelFontSize": 24}},
            "strokeDash": {"field": "series", "type": "nominal", "scale": {"domain": ["0.1g (Min)","0.1g (Max)","0.2g (Min)","0.2g (max)","0.3g (Max)","0.3g (Min)","0.4g (Min)","0.4g (Max)","0.5g (Min)","0.5g (Max)","0.6g (Max)","0.6g (Min)","0.7g (Max)","0.7g (Min)"], "range": [[14,5,2,5],[14,5,2,5],[1.5,2],[2,2],[9,5],[4,3],[1,0],[1,0],[2,2],[2,2],[14,6],[14,5,2,5],[1,0],[1,0]]}, "legend": {"title": null, "orient": "none", "legendX": -54, "legendY": 669, "columns": 7, "direction": "horizontal", "symbolStrokeWidth": 3.5, "labelFont": "Liberation Serif", "labelFontSize": 24}},
            "strokeWidth": {"field": "series", "type": "ordinal", "scale": {"domain": ["0.1g (Min)","0.1g (Max)","0.2g (Min)","0.2g (max)","0.3g (Max)","0.3g (Min)","0.4g (Min)","0.4g (Max)","0.5g (Min)","0.5g (Max)","0.6g (Max)","0.6g (Min)","0.7g (Max)","0.7g (Min)"], "range": [2,2,1.2,1.3,2,1.6,2,2,1.6,1.6,2,2,2,2]}, "legend": null}
          }
        }
      ]
    }
  ],
  "config": {
    "font": "Liberation Serif",
    "view": {"stroke": "#000000", "strokeWidth": 1},
    "title": {"font": "Liberation Serif", "fontSize": 31, "fontWeight": "normal", "color": "#000000", "anchor": "middle", "frame": "group", "dx": -17, "offset": -9, "baseline": "alphabetic"},
    "legend": {"symbolType": "stroke", "symbolSize": 2025, "symbolStrokeWidth": 3.5, "labelFont": "Liberation Serif", "labelFontSize": 24, "labelColor": "#000000", "labelOffset": 5, "columnPadding": 16.5, "rowPadding": 8, "labelLimit": 300, "padding": 0}
  }
}
